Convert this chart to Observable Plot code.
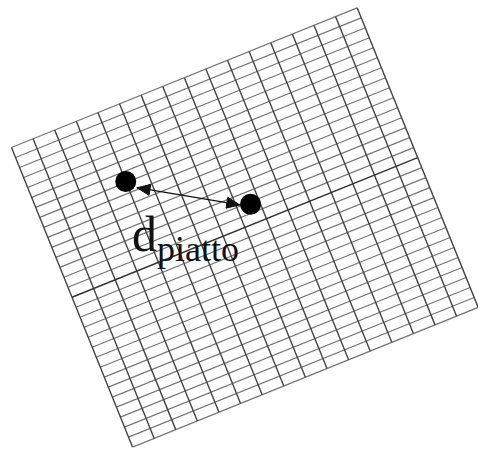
<!DOCTYPE html>
<html>
<head>
<meta charset="utf-8">
<script src="https://cdn.jsdelivr.net/npm/d3@7"></script>
<script src="https://cdn.jsdelivr.net/npm/@observablehq/plot@0.6"></script>
<style>
  html, body { margin: 0; padding: 0; background: #ffffff; }
  #chart svg { display: block; }
</style>
</head>
<body>
<div id="chart"></div>
<script>
// ---- Data (grid units: u = columns along the plate, v = rows across it) ----
const colLines = [0, 1, 2, 3, 4, 5, 6, 7, 8, 9, 10, 11, 12, 13, 14, 15, 16];
const rowLines = [0, 1, 2, 3, 4, 5, 6, 7, 8, 9, 10, 11, 12, 13, 14, 15, 16, 17, 18, 19, 20,
                  21, 22, 23, 24, 25, 26, 27, 28, 29, 30];
const midRow = 15;
const dotNames = ["A", "B"];
const dotU = [4.0, 8.6];
const dotV = [6.9, 13.2];
const arrowU = [4.35, 8.16];
const arrowV = [7.83, 12.88];
const labelMain = "d";
const labelSub = "piatto";
const labelU = 3.14;
const labelV = 13.08;

// ---- Layout of the rotated plate ----
const W = 478, H = 451;
const origin = [11, 147];
const angle = 22 * Math.PI / 180;
const cellW = 23.3, cellH = 10.77;
const cosA = Math.cos(angle), sinA = Math.sin(angle);
const nCols = colLines[colLines.length - 1];
const nRows = rowLines[rowLines.length - 1];
const px = (u, v) => origin[0] + u * cellW * cosA + v * cellH * sinA;
const py = (u, v) => origin[1] - u * cellW * sinA + v * cellH * cosA;

// grid segments
const vSegs = colLines.map(c => ({u1: c, v1: 0, u2: c, v2: nRows}));
const hSegs = rowLines.filter(r => r !== midRow).map(r => ({u1: 0, v1: r, u2: nCols, v2: r}));
const mSegs = [{u1: 0, v1: midRow, u2: nCols, v2: midRow}];

const segX1 = d => px(d.u1, d.v1), segY1 = d => py(d.u1, d.v1);
const segX2 = d => px(d.u2, d.v2), segY2 = d => py(d.u2, d.v2);

const dots = dotNames.map((n, i) => ({name: n, u: dotU[i], v: dotV[i]}));

// arrow
const aStart = [px(arrowU[0], arrowV[0]), py(arrowU[0], arrowV[0])];
const aEnd = [px(arrowU[1], arrowV[1]), py(arrowU[1], arrowV[1])];
const headLen = 13, headW = 11;
function head(tip, from, id) {
  const dx = tip[0] - from[0], dy = tip[1] - from[1];
  const L = Math.hypot(dx, dy), ux = dx / L, uy = dy / L;
  const bx = tip[0] - headLen * ux, by = tip[1] - headLen * uy;
  const nx = -uy, ny = ux;
  return [
    {id, x: tip[0], y: tip[1]},
    {id, x: bx + nx * headW / 2, y: by + ny * headW / 2},
    {id, x: bx - nx * headW / 2, y: by - ny * headW / 2},
    {id, x: tip[0], y: tip[1]}
  ];
}
const heads = [...head(aStart, aEnd, "s"), ...head(aEnd, aStart, "e")];
const shaft = [{x1: aStart[0], y1: aStart[1], x2: aEnd[0], y2: aEnd[1]}];

const label = [{u: labelU, v: labelV}];

const chart = Plot.plot({
  width: W,
  height: H,
  margin: 0,
  x: {type: "identity", axis: null},
  y: {type: "identity", axis: null},
  style: {background: "#ffffff"},
  marks: [
    Plot.link(hSegs, {x1: segX1, y1: segY1, x2: segX2, y2: segY2, stroke: "#777", strokeWidth: 1.2}),
    Plot.link(vSegs, {x1: segX1, y1: segY1, x2: segX2, y2: segY2, stroke: "#444", strokeWidth: 1.4}),
    Plot.link(mSegs, {x1: segX1, y1: segY1, x2: segX2, y2: segY2, stroke: "#333", strokeWidth: 1.5}),
    Plot.link(shaft, {x1: "x1", y1: "y1", x2: "x2", y2: "y2", stroke: "#111", strokeWidth: 1.3}),
    Plot.line(heads, {x: "x", y: "y", z: "id", fill: "#111", stroke: "#111", strokeWidth: 1}),
    Plot.dot(dots, {x: d => px(d.u, d.v), y: d => py(d.u, d.v), r: 10.5, fill: "#000", stroke: "none"}),
    Plot.text(label, {x: d => px(d.u, d.v), y: d => py(d.u, d.v), text: () => labelMain,
      textAnchor: "start", lineAnchor: "bottom", fontFamily: "Liberation Serif", fontSize: 50, fill: "#111"}),
    Plot.text(label, {x: d => px(d.u, d.v), y: d => py(d.u, d.v), text: () => labelSub, dx: 25, dy: 10,
      textAnchor: "start", lineAnchor: "bottom", fontFamily: "Liberation Serif", fontSize: 36, fill: "#111"})
  ]
});
document.getElementById("chart").appendChild(chart);
</script>
</body>
</html>
